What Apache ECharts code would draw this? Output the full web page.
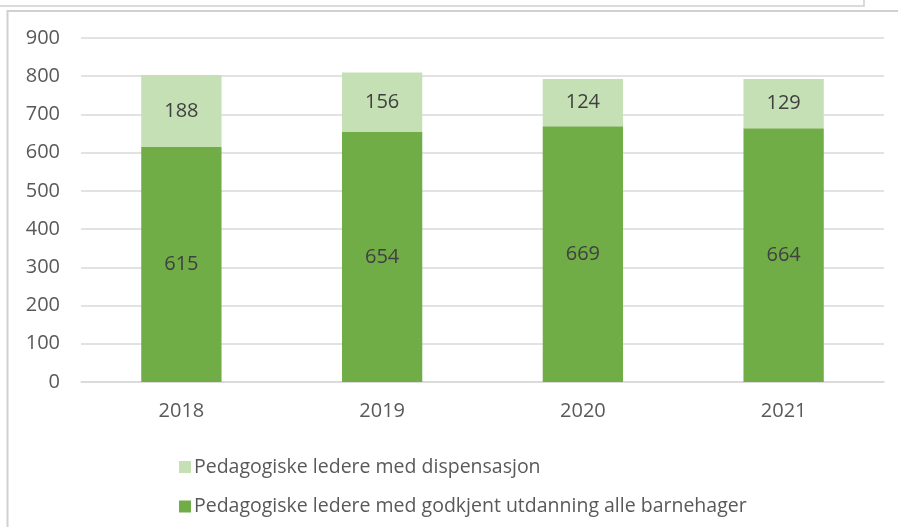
<!DOCTYPE html>
<html lang="no">
<head>
    <meta charset="UTF-8">
    <title>Pedagogiske ledere</title>
    <script src="https://cdn.jsdelivr.net/npm/echarts@6/dist/echarts.min.js"></script>
</head>
<style>
    *{
        margin: 0;
        padding: 0;
    }
    html , body{
        height: 100%;
        width: 100%;
        background: #fff;
        overflow: hidden;
    }
    .contain{
        width: 898px;
        height: 527px;
    }
</style>
<body>
<div class="contain"></div>
<script>
    const years = ['2018', '2019', '2020', '2021'];
    const godkjent = [615, 654, 669, 664];
    const dispensasjon = [188, 156, 124, 129];
    const nameGodkjent = 'Pedagogiske ledere med godkjent utdanning alle barnehager';
    const nameDisp = 'Pedagogiske ledere med dispensasjon';

    let chart = echarts.init(document.querySelector('.contain'));

    const font = '"Open Sans", "Noto Sans", sans-serif';

    let option = {
        animation: false,
        textStyle: { fontFamily: font },
        graphic: [
            // frame lines round the chart
            { type: 'polyline', shape: { points: [[0, 6], [864, 6], [864, 0]] }, style: { stroke: '#d0d0d0', lineWidth: 1.5, fill: null } },
            { type: 'polyline', shape: { points: [[898, 11], [7.5, 11], [7.5, 527]] }, style: { stroke: '#d0d0d0', lineWidth: 2, fill: null } }
        ],
        grid: { left: 81, right: 14, top: 38, bottom: 145 },
        legend: {
            data: [nameDisp, nameGodkjent],
            orient: 'vertical',
            left: 174,
            top: 452,
            itemGap: 19.5,
            itemWidth: 12,
            itemHeight: 12,
            icon: 'rect',
            textStyle: { fontSize: 19.5, lineHeight: 20, color: '#595959', fontFamily: font, padding: [0, 0, 0, -2] }
        },
        xAxis: {
            type: 'category',
            data: years,
            axisLine: { lineStyle: { color: '#d9d9d9', width: 1.5 } },
            axisTick: { show: false },
            axisLabel: { fontSize: 20, color: '#595959', margin: 19 }
        },
        yAxis: {
            type: 'value',
            min: 0,
            max: 900,
            interval: 100,
            axisLine: { show: false },
            axisTick: { show: false },
            splitLine: { lineStyle: { color: '#d9d9d9', width: 1.5 } },
            axisLabel: { fontSize: 20, color: '#595959', margin: 21 }
        },
        series: [
            {
                name: nameGodkjent,
                type: 'bar',
                stack: 'total',
                data: godkjent,
                barCategoryGap: '60%',
                itemStyle: { color: '#70ad47' },
                label: { show: true, position: 'inside', fontSize: 20, color: '#404040' }
            },
            {
                name: nameDisp,
                type: 'bar',
                stack: 'total',
                data: dispensasjon,
                barCategoryGap: '60%',
                itemStyle: { color: '#c5e0b4' },
                label: { show: true, position: 'inside', fontSize: 20, color: '#404040' }
            }
        ]
    };

    chart.setOption(option);
</script>
</body>
</html>
